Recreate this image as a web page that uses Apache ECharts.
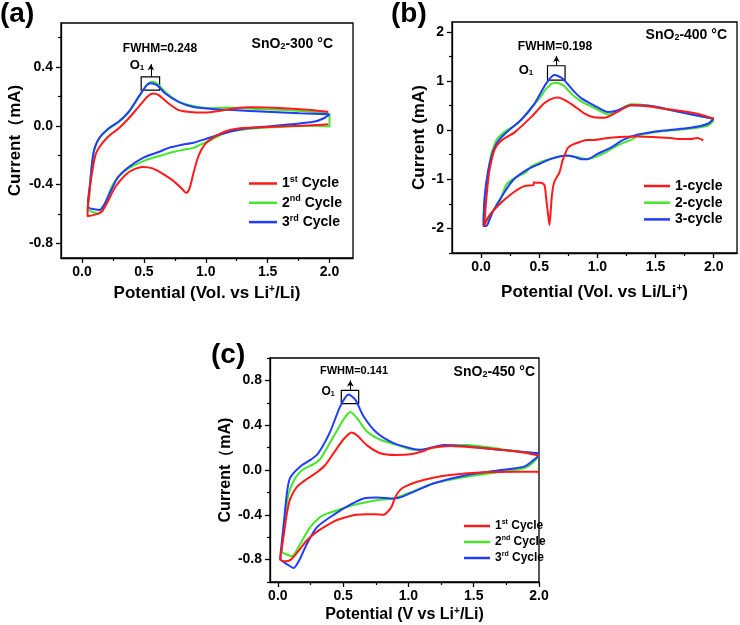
<!DOCTYPE html>
<html><head><meta charset="utf-8">
<script src="https://cdn.jsdelivr.net/npm/echarts@6/dist/echarts.min.js"></script>
<style>html,body{margin:0;padding:0;background:#fff}#c{width:740px;height:625px}</style>
</head><body><div id="c"></div>
<script>
const FONT = "'Liberation Sans', Arial, sans-serif";

// ---- tick values ----
const xTicks = [0, 0.5, 1.0, 1.5, 2.0];
const xMinor = [0.25, 0.75, 1.25, 1.75];
const aYTicks = [-0.8, -0.4, 0, 0.4];
const aYMinor = [-0.6, -0.2, 0.2, 0.6];
const bYTicks = [-2, -1, 0, 1, 2];
const bYMinor = [-2.5, -1.5, -0.5, 0.5, 1.5];
const cYTicks = [-0.8, -0.4, 0, 0.4, 0.8];
const cYMinor = [-1.0, -0.6, -0.2, 0.2, 0.6, 1.0];

// ---- legend labels ----
const aLabels = ['1{sup|st} Cycle', '2{sup|nd} Cycle', '3{sup|rd} Cycle'];
const bLabels = ['1-cycle', '2-cycle', '3-cycle'];
const cLabels = ['1{sup|st} Cycle', '2{sup|nd} Cycle', '3{sup|rd} Cycle'];

// ---- panel (a) SnO2-300 C : [potential V, current mA] ----
const a1 = [[1.99,0.01],[1.85,0.003],[1.7,-0.002],[1.5,-0.008],[1.3,-0.015],[1.17,-0.035],[1.06,-0.08],[1.0,-0.12],[0.96,-0.17],[0.93,-0.233],[0.90,-0.324],[0.875,-0.41],[0.855,-0.45],[0.84,-0.455],[0.81,-0.43],[0.73,-0.37],[0.65,-0.325],[0.57,-0.29],[0.49,-0.28],[0.41,-0.30],[0.35,-0.335],[0.27,-0.415],[0.215,-0.505],[0.16,-0.585],[0.13,-0.598],[0.09,-0.608],[0.045,-0.615],
  [0.045,-0.57],[0.05,-0.52],[0.065,-0.415],[0.08,-0.324],[0.105,-0.21],[0.133,-0.154],[0.21,-0.075],[0.295,-0.018],[0.376,0.05],[0.457,0.129],[0.53,0.2],[0.575,0.22],[0.62,0.209],[0.70,0.152],[0.78,0.107],[0.9,0.092],[1.0,0.09],[1.1,0.1],[1.22,0.118],[1.36,0.127],[1.63,0.12],[1.85,0.108],[1.99,0.095]];
const a2 = [[2.0,0.085],[2.0,-0.005],[1.9,0.0],[1.71,-0.003],[1.5,-0.012],[1.3,-0.025],[1.17,-0.042],[1.09,-0.075],[1.035,-0.1],[0.954,-0.13],[0.9,-0.15],[0.82,-0.163],[0.75,-0.175],[0.646,-0.2],[0.51,-0.235],[0.376,-0.29],[0.295,-0.347],[0.24,-0.415],[0.2,-0.5],[0.16,-0.58],[0.13,-0.598],[0.1,-0.59],[0.079,-0.585],[0.05,-0.57],
  [0.05,-0.55],[0.06,-0.47],[0.065,-0.40],[0.08,-0.26],[0.1,-0.16],[0.14,-0.085],[0.21,-0.025],[0.295,0.025],[0.376,0.09],[0.457,0.195],[0.52,0.275],[0.565,0.3],[0.61,0.285],[0.68,0.225],[0.78,0.165],[0.9,0.135],[1.05,0.12],[1.17,0.125],[1.4,0.115],[1.71,0.105],[1.99,0.088]];
const a3 = [[2.0,0.078],[1.95,0.05],[1.87,0.027],[1.71,0.012],[1.5,-0.004],[1.36,-0.015],[1.22,-0.035],[1.1,-0.063],[1.0,-0.09],[0.9,-0.115],[0.8,-0.13],[0.7,-0.15],[0.63,-0.175],[0.5,-0.215],[0.37,-0.285],[0.29,-0.35],[0.235,-0.44],[0.19,-0.52],[0.16,-0.56],[0.14,-0.573],[0.1,-0.568],[0.05,-0.555],
  [0.048,-0.53],[0.065,-0.39],[0.084,-0.233],[0.105,-0.143],[0.146,-0.075],[0.214,-0.018],[0.295,0.027],[0.376,0.095],[0.457,0.197],[0.524,0.277],[0.555,0.29],[0.605,0.277],[0.673,0.22],[0.78,0.163],[0.9,0.128],[1.05,0.115],[1.22,0.107],[1.49,0.095],[1.76,0.085],[2.0,0.078]];

// ---- panel (b) SnO2-400 C ----
const b1 = [[1.91,-0.21],[1.86,-0.16],[1.80,-0.18],[1.71,-0.18],[1.63,-0.16],[1.51,-0.145],[1.35,-0.13],[1.23,-0.135],[1.09,-0.16],[0.97,-0.2],[0.91,-0.2],[0.85,-0.24],[0.80,-0.28],[0.746,-0.36],[0.72,-0.5],[0.70,-0.62],[0.674,-0.86],[0.63,-1.05],[0.61,-1.3],[0.60,-1.6],[0.588,-1.93],[0.575,-1.7],[0.56,-1.4],[0.545,-1.12],[0.514,-1.07],[0.47,-1.07],[0.455,-1.06],[0.45,-1.12],[0.37,-1.14],[0.26,-1.3],[0.143,-1.545],[0.057,-1.785],[0.028,-1.955],
  [0.03,-1.85],[0.046,-1.375],[0.07,-0.85],[0.115,-0.4],[0.17,-0.22],[0.29,-0.04],[0.43,0.264],[0.54,0.54],[0.6,0.63],[0.66,0.662],[0.77,0.54],[0.89,0.334],[0.97,0.26],[1.06,0.252],[1.17,0.367],[1.29,0.504],[1.43,0.484],[1.57,0.437],[1.86,0.334],[2.0,0.232]];
const b2 = [[2.0,0.2],[1.95,0.094],[1.86,0.05],[1.71,0.01],[1.57,-0.02],[1.43,-0.07],[1.35,-0.11],[1.29,-0.2],[1.23,-0.25],[1.12,-0.38],[1.06,-0.47],[1.0,-0.53],[0.914,-0.59],[0.85,-0.56],[0.78,-0.53],[0.717,-0.52],[0.64,-0.56],[0.57,-0.6],[0.50,-0.66],[0.43,-0.74],[0.385,-0.86],[0.29,-0.97],[0.22,-1.1],[0.175,-1.36],[0.16,-1.47],[0.1,-1.65],[0.07,-1.78],[0.046,-1.85],[0.03,-1.88],
  [0.02,-1.85],[0.03,-1.5],[0.046,-1.17],[0.06,-0.895],[0.088,-0.485],[0.13,-0.213],[0.143,-0.16],[0.217,-0.01],[0.29,0.094],[0.33,0.17],[0.43,0.45],[0.50,0.64],[0.56,0.84],[0.63,0.965],[0.70,0.92],[0.79,0.71],[0.87,0.57],[0.96,0.47],[1.03,0.38],[1.09,0.32],[1.17,0.387],[1.29,0.525],[1.43,0.50],[1.71,0.367],[2.0,0.232]];
const b3 = [[2.0,0.232],[1.95,0.13],[1.80,0.047],[1.57,-0.008],[1.35,-0.09],[1.23,-0.19],[1.12,-0.35],[1.0,-0.485],[0.914,-0.59],[0.86,-0.59],[0.8,-0.54],[0.73,-0.515],[0.62,-0.57],[0.50,-0.69],[0.385,-0.82],[0.27,-1.03],[0.19,-1.305],[0.103,-1.65],[0.06,-1.9],[0.046,-1.95],[0.02,-1.95],
  [0.03,-1.375],[0.06,-0.83],[0.1,-0.45],[0.15,-0.213],[0.235,-0.01],[0.345,0.21],[0.46,0.54],[0.56,0.95],[0.63,1.12],[0.70,1.05],[0.79,0.81],[0.86,0.65],[0.974,0.5],[1.09,0.367],[1.17,0.40],[1.29,0.504],[1.43,0.5],[1.71,0.367],[2.0,0.232]];

// ---- panel (c) SnO2-450 C ----
const c1 = [[2.0,-0.035],[1.99,-0.015],[1.83,-0.015],[1.58,-0.02],[1.32,-0.045],[1.19,-0.07],[1.067,-0.105],[0.99,-0.14],[0.939,-0.175],[0.90,-0.24],[0.87,-0.33],[0.836,-0.38],[0.81,-0.40],[0.75,-0.395],[0.683,-0.395],[0.60,-0.40],[0.555,-0.41],[0.47,-0.44],[0.427,-0.46],[0.3,-0.55],[0.222,-0.63],[0.146,-0.74],[0.094,-0.805],[0.056,-0.815],[0.02,-0.80],
  [0.043,-0.6],[0.069,-0.39],[0.094,-0.26],[0.146,-0.15],[0.222,-0.08],[0.3,-0.02],[0.36,0.04],[0.427,0.15],[0.5,0.27],[0.565,0.335],[0.606,0.31],[0.683,0.22],[0.785,0.15],[0.9,0.135],[1.015,0.14],[1.09,0.16],[1.19,0.2],[1.32,0.215],[1.58,0.195],[1.83,0.165],[2.0,0.13]];
const c2 = [[2.0,0.13],[1.95,0.06],[1.885,0.015],[1.71,-0.015],[1.45,-0.06],[1.19,-0.12],[1.015,-0.2],[0.887,-0.254],[0.76,-0.27],[0.63,-0.3],[0.53,-0.33],[0.427,-0.37],[0.376,-0.39],[0.325,-0.42],[0.248,-0.51],[0.171,-0.66],[0.107,-0.77],[0.06,-0.75],[0.03,-0.73],
  [0.045,-0.5],[0.056,-0.42],[0.081,-0.22],[0.12,-0.1],[0.16,-0.03],[0.2,0.01],[0.27,0.05],[0.325,0.1],[0.427,0.3],[0.503,0.45],[0.555,0.517],[0.606,0.463],[0.683,0.343],[0.785,0.27],[0.913,0.224],[1.015,0.186],[1.09,0.18],[1.27,0.215],[1.45,0.224],[1.71,0.186],[2.0,0.14]];
const c3 = [[2.0,0.13],[1.96,0.09],[1.885,0.03],[1.71,0.0],[1.45,-0.045],[1.19,-0.12],[1.07,-0.18],[0.96,-0.235],[0.887,-0.254],[0.76,-0.245],[0.657,-0.254],[0.555,-0.31],[0.427,-0.40],[0.3,-0.51],[0.222,-0.66],[0.171,-0.79],[0.12,-0.875],[0.081,-0.85],[0.031,-0.81],[0.018,-0.80],
  [0.03,-0.65],[0.043,-0.51],[0.069,-0.21],[0.094,-0.07],[0.17,0.03],[0.25,0.09],[0.31,0.15],[0.40,0.34],[0.478,0.568],[0.542,0.673],[0.593,0.628],[0.657,0.478],[0.76,0.33],[0.887,0.24],[1.015,0.195],[1.09,0.18],[1.27,0.224],[1.45,0.21],[1.71,0.18],[2.0,0.15]];

const RED = '#ff1a1a', GREEN = '#44e62a', BLUE = '#1f3cff';
const COLORS = [RED, GREEN, BLUE];

const grids = [
  {left: 61, top: 23, width: 292, height: 235},
  {left: 452, top: 22, width: 285, height: 231},
  {left: 270, top: 358, width: 269, height: 224}
].map(g => Object.assign(g, {show: true, borderColor: '#000', borderWidth: 1.3, backgroundColor: 'transparent'}));

function mainAxis(dim, gi, min, max, ticks, fmt, name, gap, nameSize) {
  return {
    type: 'value', gridIndex: gi, min: min, max: max,
    position: dim === 'x' ? 'bottom' : 'left',
    axisLine: {show: true, onZero: false, lineStyle: {color: '#000', width: 1.3}},
    axisTick: {show: true, inside: false, length: 5, customValues: ticks, lineStyle: {color: '#000', width: 1.3}},
    axisLabel: {show: true, customValues: ticks, formatter: fmt, color: '#000', fontSize: 14, fontWeight: 'bold', fontFamily: FONT, margin: dim === 'x' ? 7 : 8},
    splitLine: {show: false},
    name: name, nameLocation: 'middle', nameGap: gap,
    nameTextStyle: {color: '#000', fontSize: nameSize, fontWeight: 'bold', fontFamily: FONT, rich: {
      sup: {fontSize: 10, fontWeight: 'bold', fontFamily: FONT, verticalAlign: 'top', color: '#000', padding: [0, 0, 8, 0]}
    }}
  };
}
function minorAxis(dim, gi, min, max, ticks) {
  return {
    type: 'value', gridIndex: gi, min: min, max: max,
    position: dim === 'x' ? 'bottom' : 'left',
    axisLine: {show: false, onZero: false},
    axisTick: {show: true, inside: false, length: 3, customValues: ticks, lineStyle: {color: '#000', width: 1.2}},
    axisLabel: {show: false},
    splitLine: {show: false}
  };
}
const f1 = v => v.toFixed(1);
const f0 = v => String(Math.round(v));

const xAxes = [
  mainAxis('x', 0, -0.17, 2.19, xTicks, f1, 'Potential (Vol. vs Li{sup|+}/Li)', 26, 17),
  mainAxis('x', 1, -0.25, 2.2, xTicks, f1, 'Potential (Vol. vs Li/Li{sup|+})', 30, 17),
  mainAxis('x', 2, -0.06, 2.0, xTicks, f1, 'Potential (V vs Li{sup|+}/Li)', 24, 16),
  minorAxis('x', 0, -0.17, 2.19, xMinor),
  minorAxis('x', 1, -0.25, 2.2, xMinor),
  minorAxis('x', 2, -0.06, 2.0, xMinor)
];
const yAxes = [
  mainAxis('y', 0, -0.9, 0.7, aYTicks, f1, 'Current（mA)', 37, 17),
  mainAxis('y', 1, -2.5, 2.2, bYTicks, f0, 'Current (mA)', 24, 17),
  mainAxis('y', 2, -1.0, 1.0, cYTicks, f1, 'Current（mA)', 30, 16),
  minorAxis('y', 0, -0.9, 0.7, aYMinor),
  minorAxis('y', 1, -2.5, 2.2, bYMinor),
  minorAxis('y', 2, -1.0, 1.0, cYMinor)
];

const panels = [[a1, a2, a3], [b1, b2, b3], [c1, c2, c3]];
const boxes = [
  {box: [[0.478, 0.333], [0.627, 0.243]], arrow: [[0.557, 0.333], [0.557, 0.42]]},
  {box: [[0.571, 1.31], [0.722, 1.016]], arrow: [[0.648, 1.31], [0.648, 1.51]]},
  {box: [[0.486, 0.711], [0.619, 0.592]], arrow: [[0.555, 0.711], [0.555, 0.80]]}
];
const series = [];
panels.forEach((ps, gi) => {
  ps.forEach((d, k) => {
    const s = {
      name: 'p' + gi + '_' + k, type: 'line', xAxisIndex: gi, yAxisIndex: gi,
      data: d, showSymbol: false, symbol: 'none', smooth: 0.25,
      lineStyle: {color: COLORS[k], width: 2}, itemStyle: {color: COLORS[k]},
      z: 2 + (k === 0 ? 1 : 0)
    };
    if (k === 2) {
      const b = boxes[gi];
      s.markArea = {silent: true, itemStyle: {color: 'rgba(0,0,0,0)', borderColor: '#000', borderWidth: 1.2},
        data: [[{coord: b.box[0]}, {coord: b.box[1]}]]};
      s.markLine = {silent: true, symbol: ['none', 'arrow'], symbolSize: [5, 6], label: {show: false},
        lineStyle: {color: '#000', width: 1, type: 'solid'},
        data: [[{coord: b.arrow[0]}, {coord: b.arrow[1]}]]};
    }
    series.push(s);
  });
});

function mkLegend(gi, labels, left, top, fs, lh, gap, iw) {
  const names = [0, 1, 2].map(k => 'p' + gi + '_' + k);
  return {
    data: names, orient: 'vertical', left: left, top: top, itemGap: gap,
    itemWidth: iw, itemHeight: 2.5, icon: 'rect', selectedMode: false,
    formatter: n => labels[+n.split('_')[1]],
    textStyle: {color: '#000', fontSize: fs, fontWeight: 'bold', fontFamily: FONT, lineHeight: lh,
      rich: {sup: {fontSize: Math.round(fs * 0.62), fontWeight: 'bold', fontFamily: FONT, verticalAlign: 'top', color: '#000', lineHeight: lh * 0.6}}}
  };
}
const legends = [
  mkLegend(0, aLabels, 244, 170, 14, 17, 2.3, 28),
  mkLegend(1, bLabels, 639, 173, 14, 16, 0.7, 26),
  mkLegend(2, cLabels, 459, 514, 12, 14, 2.0, 26)
];

function txt(x, y, text, size, align, rich) {
  return {type: 'text', x: x, y: y, silent: true, z: 10,
    style: {text: text, fill: '#000', font: 'bold ' + size + 'px ' + FONT, align: align, verticalAlign: 'middle',
      rich: rich || {}}};
}
const subRich = s => ({sub: {fontSize: s, fontWeight: 'bold', fontFamily: FONT, fill: '#000', verticalAlign: 'bottom', padding: [Math.round(s * 0.6), 0, 0, 0]}});
const graphics = [
  txt(0, 14, '(a)', 28, 'left'),
  txt(391, 14, '(b)', 28, 'left'),
  txt(211, 355, '(c)', 28, 'left'),
  txt(333, 44, 'SnO{sub|2}-300 °C', 14, 'right', subRich(9)),
  txt(727, 35, 'SnO{sub|2}-400 °C', 14, 'right', subRich(9)),
  txt(535, 372, 'SnO{sub|2}-450 °C', 14, 'right', subRich(9)),
  txt(160, 49, 'FWHM=0.248', 12, 'center'),
  txt(555, 47, 'FWHM=0.198', 12, 'center'),
  txt(354, 371, 'FWHM=0.141', 11, 'center'),
  txt(137, 65, 'O{sub|1}', 13, 'center', subRich(8)),
  txt(526, 70, 'O{sub|1}', 13, 'center', subRich(8)),
  txt(328, 392, 'O{sub|1}', 12, 'center', subRich(7))
];

const chart = echarts.init(document.getElementById('c'), null, {renderer: 'canvas'});
chart.setOption({
  animation: false,
  backgroundColor: '#fff',
  grid: grids,
  xAxis: xAxes,
  yAxis: yAxes,
  legend: legends,
  series: series,
  graphic: graphics
});
</script></body></html>
